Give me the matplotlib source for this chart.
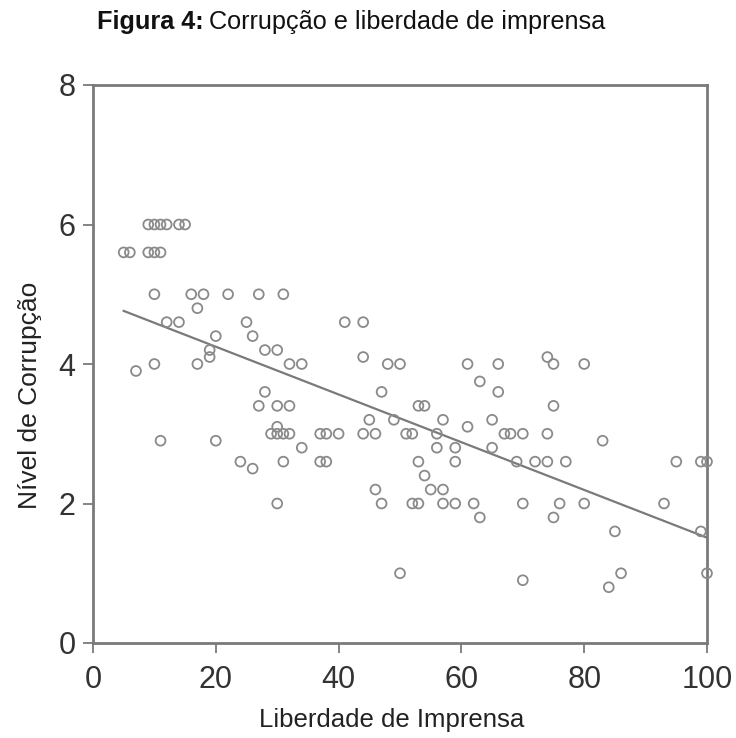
import matplotlib
matplotlib.use("Agg")
import matplotlib.pyplot as plt
import numpy as np

# Data (Liberdade de Imprensa, Nível de Corrupção)
liberdade = [9, 10, 11, 12, 14, 15,
             5, 6, 9, 10, 11,
             10, 16, 18, 22, 27, 31,
             17,
             12, 14, 25, 41, 44,
             20, 26,
             19, 28, 30,
             19, 44, 74,
             10, 17, 32, 34, 48, 50, 61, 66, 75, 80,
             7,
             63,
             28, 47, 66,
             27, 30, 32, 53, 54, 75,
             45, 49, 57, 65,
             30, 61,
             29, 30, 31, 32, 37, 38, 40, 44, 46, 51, 52, 56, 67, 68, 70, 74,
             11, 20, 83,
             34, 56, 59, 65,
             24, 31, 37, 38, 53, 59, 69, 72, 74, 77, 95, 99, 100,
             26,
             54,
             46, 55, 57,
             30, 47, 52, 53, 57, 59, 62, 70, 76, 80, 93,
             63, 75,
             85, 99,
             50, 86, 100,
             70,
             84]
corrupcao = ([6.0] * 6 + [5.6] * 5 + [5.0] * 6 + [4.8] + [4.6] * 5 + [4.4] * 2 +
             [4.2] * 3 + [4.1] * 3 + [4.0] * 10 + [3.9] + [3.75] + [3.6] * 3 +
             [3.4] * 6 + [3.2] * 4 + [3.1] * 2 + [3.0] * 16 + [2.9] * 3 +
             [2.8] * 4 + [2.6] * 13 + [2.5] + [2.4] + [2.2] * 3 + [2.0] * 11 +
             [1.8] * 2 + [1.6] * 2 + [1.0] * 3 + [0.9] + [0.8])

x_ticks = [0, 20, 40, 60, 80, 100]
y_ticks = [0, 2, 4, 6, 8]

x = np.array(liberdade, dtype=float)
y = np.array(corrupcao, dtype=float)

plt.rcParams['font.family'] = ['Liberation Sans', 'DejaVu Sans']

W, H = 736, 738
fig = plt.figure(figsize=(W / 100, H / 100), dpi=100)
ax = fig.add_axes([93 / W, 1 - 643 / H, 614 / W, 558 / H])

gray = '#7a7a7a'
ax.scatter(x, y, s=50, facecolors='none', edgecolors='#8a8a8a', linewidths=1.3, zorder=3,
           clip_on=False)

b, a = np.polyfit(x, y, 1)
xs = np.array([x.min(), x.max()])
ax.plot(xs, a + b * xs, color=gray, lw=1.6, zorder=2)

ax.set_xlim(0, 100)
ax.set_ylim(0, 8)
ax.set_xticks(x_ticks)
ax.set_yticks(y_ticks)
ax.tick_params(axis='both', direction='out', length=7.5, width=1.3, color=gray,
               labelsize=22, labelcolor='#333333')
ax.tick_params(axis='x', pad=8)
ax.tick_params(axis='y', pad=5)
for s in ax.spines.values():
    s.set_color(gray)
    s.set_linewidth(2)

fig.text(392 / W, 1 - 720 / H, 'Liberdade de Imprensa', fontsize=18.5, color='#222222',
         ha='center', va='center')
fig.text(30 / W, 1 - 395 / H, 'Nível de Corrupção', fontsize=19, color='#222222',
         ha='center', va='center', rotation=90)

t1 = fig.text(97 / W, 1 - 22 / H, 'Figura 4:', fontsize=18.2, fontweight='bold',
              va='center', ha='left', color='#111111')
fig.canvas.draw()
r = fig.canvas.get_renderer()
bb = t1.get_window_extent(renderer=r)
fig.text((bb.x1 + 5) / fig.bbox.width, 1 - 22 / H, 'Corrupção e liberdade de imprensa',
         fontsize=18.2, va='center', ha='left', color='#111111')

fig.savefig('out.png', dpi=100)
